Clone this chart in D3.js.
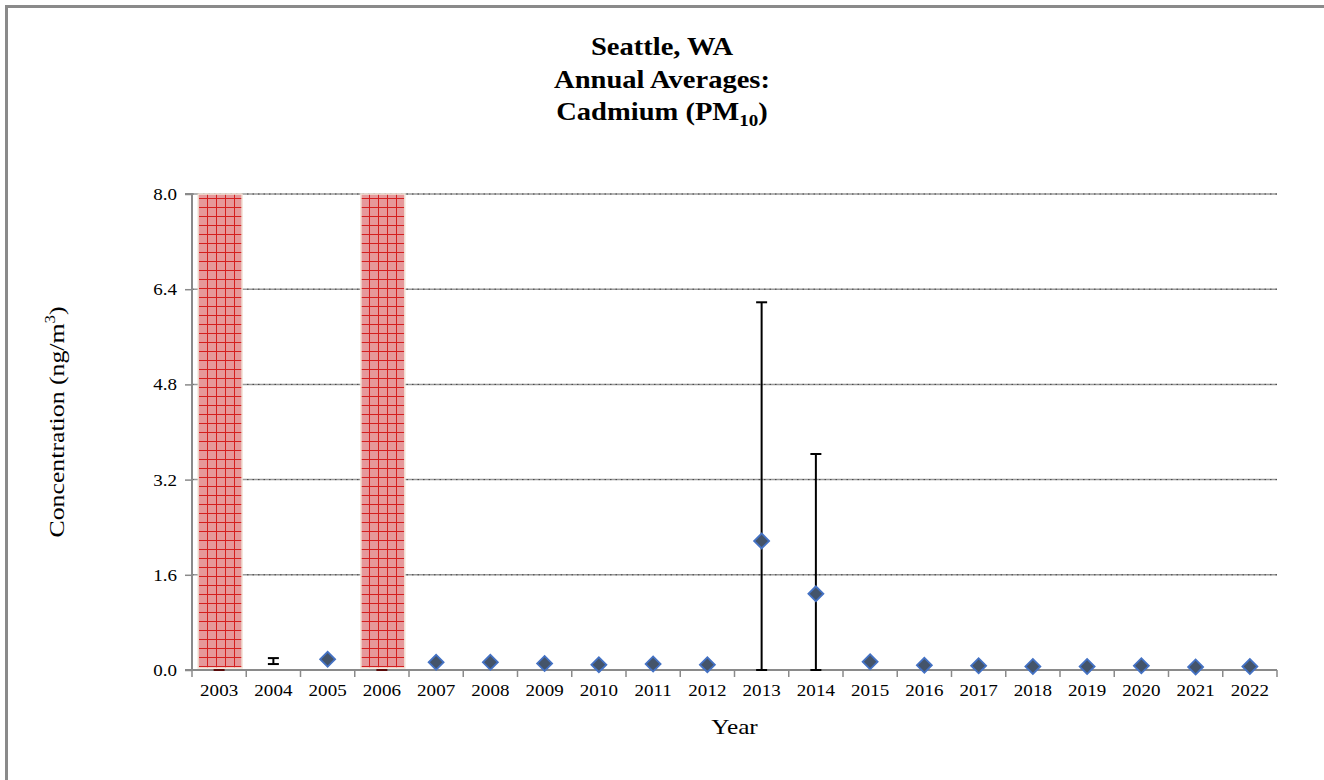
<!DOCTYPE html>
<html>
<head>
<meta charset="utf-8">
<script src="https://cdn.jsdelivr.net/npm/d3@7"></script>
<style>
  html, body { margin: 0; padding: 0; background: #fff; }
  svg, svg text { font-family: "Liberation Serif", "Times New Roman", serif !important; }
</style>
</head>
<body>
<svg id="chart" width="1324" height="780"></svg>
<script>
// Annual average cadmium (PM10) concentrations, ng/m3
const years = ["2003","2004","2005","2006","2007","2008","2009","2010","2011","2012",
               "2013","2014","2015","2016","2017","2018","2019","2020","2021","2022"];
const means = [null, null, 0.18, null, 0.13, 0.13, 0.11, 0.09, 0.10, 0.09,
               2.17, 1.28, 0.14, 0.08, 0.07, 0.06, 0.06, 0.07, 0.05, 0.06];
const errLow  = [0, 0.10, null, 0, null, null, null, null, null, null,
                 0, 0, null, null, null, null, null, null, null, null];
const errHigh = [0, 0.20, null, 0, null, null, null, null, null, null,
                 6.18, 3.63, null, null, null, null, null, null, null, null];
// Years flagged across the full axis height
const flaggedYears = ["2003", "2006"];
const yTicks = [0, 1.6, 3.2, 4.8, 6.4, 8.0];

const svg = d3.select("#chart");
const margin = { left: 192, right: 47, top: 194, bottom: 110 };
const W = 1324, H = 780;
const FONT = '"Liberation Serif", "Times New Roman", serif';
const SX = 1.12; // horizontal text stretch

// outer frame
svg.append("rect").attr("x", 6.5).attr("y", 6.5).attr("width", W - 4.5).attr("height", H + 10)
  .attr("fill", "none").attr("stroke", "#8a8a8a").attr("stroke-width", 3);

const x = d3.scaleBand().domain(years).range([margin.left, W - margin.right]);
const y = d3.scaleLinear().domain([0, 8]).range([H - margin.bottom, margin.top]);

// crosshatch fill for flagged years
const defs = svg.append("defs");
const pat = defs.append("pattern").attr("id", "hatch").attr("patternUnits", "userSpaceOnUse")
  .attr("width", 9).attr("height", 9);
pat.append("rect").attr("width", 9).attr("height", 9).attr("fill", "#e6989a");
pat.append("path").attr("d", "M0,0.5H9M0.5,0V9").attr("stroke", "#d41f1f").attr("stroke-width", 1);

// gridlines
const grid = svg.append("g");
yTicks.forEach(t => {
  grid.append("line").attr("x1", margin.left).attr("x2", W - margin.right)
    .attr("y1", y(t)).attr("y2", y(t)).attr("stroke", "#9a9a9a").attr("stroke-width", 1.5);
  grid.append("line").attr("x1", margin.left).attr("x2", W - margin.right)
    .attr("y1", y(t)).attr("y2", y(t)).attr("stroke", "#444").attr("stroke-width", 1)
    .attr("stroke-dasharray", "1.5,4");
});

// flagged bars
const pad = 0.19;
svg.append("g").selectAll("rect").data(flaggedYears).join("rect")
  .attr("x", d => x(d) + x.bandwidth() * pad / 2 + 1)
  .attr("width", x.bandwidth() * (1 - pad))
  .attr("y", y(8))
  .attr("height", y(0) - y(8) - 2)
  .attr("fill", "url(#hatch)")
  .attr("stroke", "#f2e4d8").attr("stroke-width", 1.5);

// y axis
const yAxis = svg.append("g").attr("transform", `translate(${margin.left},0)`)
  .call(d3.axisLeft(y).tickValues(yTicks).tickFormat(d3.format(".1f")).tickSize(7).tickPadding(8));
yAxis.attr("font-family", null).attr("font-size", null);
yAxis.select(".domain").attr("stroke", "#8a8a8a").attr("stroke-width", 2).attr("d", `M-7,${y(8)}H0V${y(0)}H-7`);
yAxis.selectAll(".tick line").attr("stroke", "#8a8a8a").attr("stroke-width", 1.5);
yAxis.selectAll(".tick text").style("font-size", "17px").attr("fill", "#000").style("font-family", FONT)
  .attr("x", -15 / SX).attr("transform", `scale(${SX},1)`);

// x axis
const xAxis = svg.append("g").attr("transform", `translate(0,${y(0)})`)
  .call(d3.axisBottom(x).tickSize(0).tickPadding(14));
xAxis.attr("font-family", null).attr("font-size", null);
xAxis.select(".domain").attr("stroke", "#8a8a8a").attr("stroke-width", 2)
  .attr("d", `M${margin.left},0H${W - margin.right}`);
xAxis.selectAll(".tick text").style("font-size", "17px").attr("fill", "#000").style("font-family", FONT)
  .attr("transform", `scale(${SX},1)`);
// category boundary ticks
const bounds = years.map(d => x(d)).concat([x(years[years.length - 1]) + x.bandwidth()]);
xAxis.selectAll("line.bound").data(bounds).join("line").attr("class", "bound")
  .attr("x1", d => d).attr("x2", d => d).attr("y1", 0).attr("y2", 7)
  .attr("stroke", "#8a8a8a").attr("stroke-width", 1.5);

// error bars
const cx = d => x(d) + x.bandwidth() / 2;
const errs = years.map((yr, i) => ({ yr, lo: errLow[i], hi: errHigh[i] })).filter(d => d.lo !== null);
const eg = svg.append("g");
errs.forEach(d => {
  const capW = 5.5;
  if (d.hi > d.lo) {
    eg.append("line").attr("x1", cx(d.yr)).attr("x2", cx(d.yr)).attr("y1", y(d.hi)).attr("y2", y(d.lo))
      .attr("stroke", "#000").attr("stroke-width", 2);
    eg.append("line").attr("x1", cx(d.yr) - capW).attr("x2", cx(d.yr) + capW).attr("y1", y(d.hi)).attr("y2", y(d.hi))
      .attr("stroke", "#000").attr("stroke-width", 2);
  }
  eg.append("line").attr("x1", cx(d.yr) - capW).attr("x2", cx(d.yr) + capW).attr("y1", y(d.lo)).attr("y2", y(d.lo))
    .attr("stroke", flaggedYears.includes(d.yr) ? "#5a0a0a" : "#000").attr("stroke-width", 2);
});

// mean markers
const pts = years.map((yr, i) => ({ yr, v: means[i] })).filter(d => d.v !== null);
svg.append("g").selectAll("path").data(pts).join("path")
  .attr("d", d3.symbol().type(d3.symbolSquare).size(112))
  .attr("transform", d => `translate(${cx(d.yr)},${y(d.v)}) rotate(45)`)
  .attr("fill", "#44546a").attr("stroke", "#4472c4").attr("stroke-width", 1.8);

// titles
const title = svg.append("text").attr("text-anchor", "middle").attr("font-weight", "bold")
  .attr("transform", `translate(662,0) scale(${SX},1)`)
  .style("font-size", "25.5px").style("font-family", FONT).attr("fill", "#000");
title.append("tspan").attr("x", 0).attr("y", 55).text("Seattle, WA");
title.append("tspan").attr("x", 0).attr("y", 88).text("Annual Averages:");
title.append("tspan").attr("x", 0).attr("y", 120).text("Cadmium (PM");
title.append("tspan").style("font-size", "17px").attr("dy", 6).text("10");
title.append("tspan").attr("dy", -6).text(")");

// axis titles
svg.append("text").attr("transform", `translate(${(margin.left + W - margin.right) / 2},734) scale(1.15,1)`)
  .attr("text-anchor", "middle").style("font-size", "22px").style("font-family", FONT)
  .attr("fill", "#000").text("Year");
const yl = svg.append("text").attr("transform", "translate(64,422) rotate(-90) scale(1.2,1)")
  .attr("text-anchor", "middle").style("font-size", "21.5px").style("font-family", FONT).attr("fill", "#000");
yl.append("tspan").text("Concentration (ng/m");
yl.append("tspan").style("font-size", "14px").attr("dy", -9).text("3");
yl.append("tspan").attr("dy", 9).text(")");
</script>
</body>
</html>
